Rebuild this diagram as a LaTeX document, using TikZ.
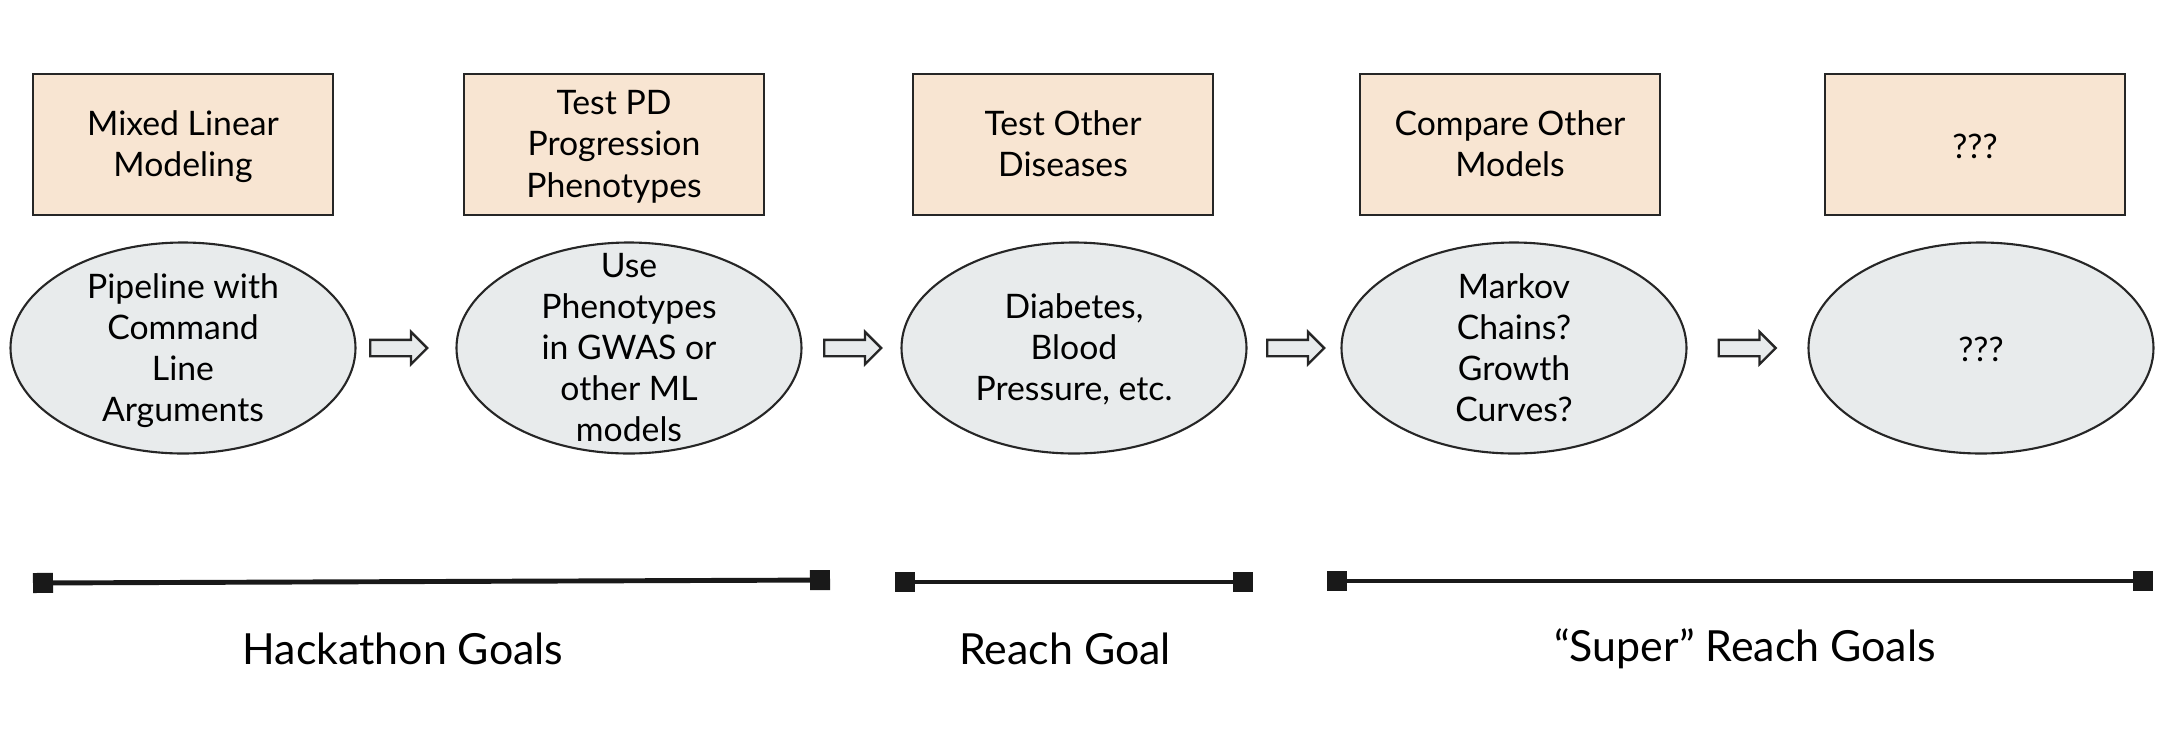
\documentclass[tikz,border=0pt]{standalone}
\usepackage{fontspec}
\setmainfont{Lato}
\usepackage{tikz}
\usetikzlibrary{calc,shapes.geometric,shapes.arrows,arrows.meta}
\definecolor{boxpeach}{RGB}{248,229,210}
\definecolor{ellgrey}{RGB}{232,235,236}
\tikzset{
  goalbox/.style  = {draw=black!85, fill=boxpeach, line width=0.6pt, minimum width=3cm,
                     minimum height=1.41cm, inner sep=1pt},
  boxtext/.style  = {align=center, inner sep=0pt, yshift=-0.055cm,
                     execute at begin node=\strut, execute at end node=\strut},
  goalell/.style  = {draw=black!85, fill=ellgrey, line width=0.6pt, ellipse, inner sep=0pt,
                     minimum width=3.45cm, minimum height=2.11cm},
  steparr/.style  = {draw=black!85, fill=ellgrey, line width=0.7pt, single arrow,
                     minimum height=0.57cm, minimum width=0.31cm, inner sep=0.07cm,
                     single arrow head extend=0.08cm, anchor=tail},
  spanline/.style = {line width=1.4pt, black!90, {Square[length=0.2cm,width=0.2cm]}-{Square[length=0.2cm,width=0.2cm]}},
  spanlab/.style  = {font=\fontsize{12.2}{14}\selectfont},
}

\begin{document}
\begin{tikzpicture}[every node/.style={font=\fontsize{9.6}{11.7}\selectfont}]
\useasboundingbox (0,0) rectangle (21.78,-7.38);
\node[goalbox] (b1) at (1.83,-1.445) {};
\node[goalbox] (b2) at (6.14,-1.445) {};
\node[goalbox] (b3) at (10.63,-1.445) {};
\node[goalbox] (b4) at (15.10,-1.445) {};
\node[goalbox] (b5) at (19.75,-1.445) {};
\node[boxtext] (bt1) at (b1) {Mixed Linear\\Modeling};
\node[boxtext] (bt2) at (b2) {Test PD\\Progression\\Phenotypes};
\node[boxtext] (bt3) at (b3) {Test Other\\Diseases};
\node[boxtext] (bt4) at (b4) {Compare Other\\Models};
\node[boxtext] (bt5) at (b5) {???};

\node[goalell] (e1) at (1.83,-3.48) {};
\node[goalell] (e2) at (6.29,-3.48) {};
\node[goalell] (e3) at (10.74,-3.48) {};
\node[goalell] (e4) at (15.14,-3.48) {};
\node[goalell] (e5) at (19.81,-3.48) {};
\node[boxtext] (t1) at (e1) {Pipeline with\\Command\\Line\\Arguments};
\node[boxtext] (t2) at (e2) {Use\\Phenotypes\\in GWAS or\\other ML\\models};
\node[boxtext] (t3) at (e3) {Diabetes,\\Blood\\Pressure, etc.};
\node[boxtext] (t4) at (e4) {Markov\\Chains?\\Growth\\Curves?};
\node[boxtext] (t5) at (e5) {???};

\foreach \a/\b/\d in {1/2/-0.37,2/3/-0.285,3/4/-0.28,4/5/-0.30}
  \node[steparr, xshift=\d cm] (a\a) at ($(e\a.east)!0.5!(e\b.west)$) {};

\coordinate (h1) at (0.33,-5.83);
\coordinate (h2) at (8.30,-5.80);
\coordinate (r1) at (8.95,-5.82);
\coordinate (r2) at (12.53,-5.82);
\coordinate (s1) at (13.27,-5.81);
\coordinate (s2) at (21.53,-5.81);
\draw[spanline] (h1) -- (h2);
\draw[spanline] (r1) -- (r2);
\draw[spanline] (s1) -- (s2);

\node[spanlab] (lh) at (4.03,-6.49) {Hackathon Goals};
\node[spanlab] (lr) at (10.65,-6.49) {Reach Goal};
\node[spanlab] (ls) at (17.45,-6.49) {“Super” Reach Goals};
\end{tikzpicture}
\end{document}
